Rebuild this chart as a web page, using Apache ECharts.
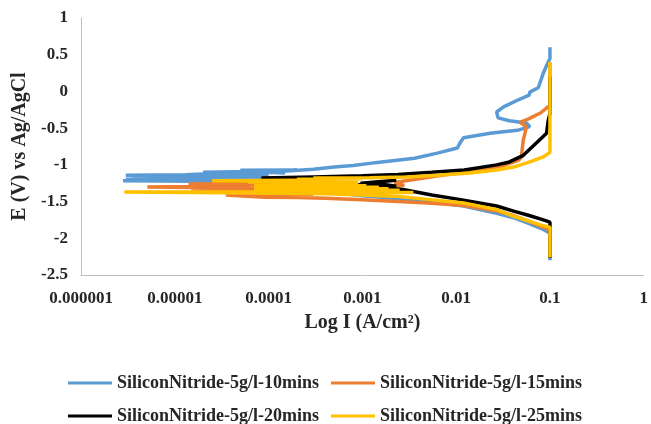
<!DOCTYPE html>
<html>
<head>
<meta charset="utf-8">
<script src="https://cdn.jsdelivr.net/npm/echarts@6/dist/echarts.min.js"></script>
<style>
  html, body { margin: 0; padding: 0; background: #fff; }
  #chart { width: 651px; height: 424px; }
</style>
</head>
<body>
<div id="chart"></div>
<script>
// tick labels of the log current axis (1e-6 .. 1)
const xTickLabels = ["0.000001", "0.00001", "0.0001", "0.001", "0.01", "0.1", "1"];

const seriesNames = [
  "SiliconNitride-5g/l-10mins",
  "SiliconNitride-5g/l-15mins",
  "SiliconNitride-5g/l-20mins",
  "SiliconNitride-5g/l-25mins",
];

// each trace: [current (A/cm2), potential (V)], in sweep order (cathodic -> anodic)
const trace10 = [
  [0.1, -2.30], [0.1, -1.93], [0.085, -1.88], [0.06, -1.80], [0.041, -1.72], [0.027, -1.66],
  [0.012, -1.56], [0.005, -1.50], [0.002, -1.45], [0.001, -1.42], [0.0005, -1.38], [0.0003, -1.30],
  [0.0002, -1.24], [0.0001, -1.23], [2.8e-6, -1.215], [6e-5, -1.205], [3e-6, -1.195], [8e-5, -1.19],
  [3.5e-6, -1.175], [1e-4, -1.17], [4e-6, -1.16], [5e-5, -1.155], [3e-6, -1.14], [1.3e-5, -1.135],
  [2e-5, -1.125], [1e-4, -1.13], [2e-5, -1.10], [6e-5, -1.09], [1.5e-4, -1.11], [5e-5, -1.075],
  [2e-4, -1.07], [1.3e-4, -1.09], [3e-4, -1.06], [5e-4, -1.03],
  [8e-4, -1.01], [0.0012, -0.98], [0.0016, -0.96], [0.0036, -0.91], [0.0063, -0.84], [0.0103, -0.77],
  [0.011, -0.70], [0.012, -0.63], [0.023, -0.57], [0.032, -0.55], [0.045, -0.53], [0.061, -0.48],
  [0.056, -0.43], [0.037, -0.40], [0.028, -0.36], [0.027, -0.28], [0.032, -0.21], [0.045, -0.12],
  [0.06, -0.05], [0.061, -0.01], [0.075, 0.05], [0.085, 0.25], [0.095, 0.39], [0.1, 0.45], [0.1, 0.60],
];

const trace15 = [
  [0.1, -2.22], [0.1, -1.89], [0.085, -1.85], [0.06, -1.77], [0.041, -1.69], [0.027, -1.63],
  [0.012, -1.555], [0.005, -1.52], [0.0024, -1.50], [0.001, -1.475], [0.0004, -1.455], [0.0002, -1.445],
  [9e-5, -1.44], [3.5e-5, -1.41], [0.0003, -1.40], [8e-5, -1.36], [1.5e-5, -1.33], [7e-5, -1.32],
  [5.1e-6, -1.30], [2.5e-5, -1.29], [7e-5, -1.27], [1.4e-5, -1.26], [6.6e-5, -1.255], [4e-4, -1.27],
  [0.0015, -1.29], [0.0028, -1.28], [0.0022, -1.24], [0.004, -1.19], [0.008, -1.13], [0.015, -1.09],
  [0.03, -1.02], [0.046, -0.94], [0.05, -0.89], [0.05, -0.84], [0.052, -0.66], [0.054, -0.58],
  [0.056, -0.48], [0.048, -0.42], [0.06, -0.37], [0.08, -0.29], [0.095, -0.21], [0.1, -0.20], [0.1, 0.40],
];

const trace20 = [
  [0.1, -2.27], [0.1, -1.78], [0.085, -1.75], [0.06, -1.69], [0.041, -1.63], [0.027, -1.56],
  [0.012, -1.48], [0.0055, -1.41], [0.0028, -1.34], [0.0016, -1.30], [0.00106, -1.28], [0.00096, -1.25],
  [0.0023, -1.21], [0.0012, -1.24], [0.0023, -1.29], [0.001, -1.26], [0.0006, -1.33], [0.00022, -1.38],
  [0.0005, -1.34], [8.4e-5, -1.18], [3e-4, -1.165], [0.001, -1.15], [0.0024, -1.13], [0.0055, -1.10],
  [0.0122, -1.07], [0.027, -1.00], [0.037, -0.96], [0.052, -0.87], [0.072, -0.70], [0.092, -0.57],
  [0.096, -0.39], [0.1, -0.30], [0.1, 0.20],
];

const trace25 = [
  [0.1, -2.26], [0.1, -1.85], [0.085, -1.83], [0.061, -1.77], [0.041, -1.70], [0.027, -1.61],
  [0.012, -1.52], [0.005, -1.47], [0.0024, -1.43], [0.001, -1.41], [0.0004, -1.395], [0.0001, -1.385],
  [3.5e-5, -1.38], [2.9e-6, -1.37], [1.5e-5, -1.37], [9e-5, -1.365], [0.0035, -1.375], [7e-5, -1.355],
  [0.0025, -1.345], [7e-5, -1.335], [0.0019, -1.325], [7e-5, -1.315], [0.0015, -1.305], [7e-5, -1.295],
  [0.0011, -1.285], [7e-5, -1.275], [0.0009, -1.265], [7e-5, -1.255], [0.0009, -1.245], [6e-5, -1.235],
  [0.0009, -1.225], [2.5e-5, -1.215], [0.0005, -1.205], [2e-4, -1.195], [0.001, -1.19], [3e-4, -1.18],
  [0.0012, -1.175], [0.003, -1.165], [0.0063, -1.14], [0.0141, -1.11], [0.027, -1.07], [0.041, -1.03],
  [0.061, -0.96], [0.085, -0.89], [0.1, -0.83], [0.1, 0.40],
];

const colors = ["#5B9BD5", "#ED7D31", "#000000", "#FFC000"];
const traces = [trace10, trace15, trace20, trace25];

const FONT = "'Liberation Serif', 'Times New Roman', serif";
const TEXT_COLOR = "#262626";

const chart = echarts.init(document.getElementById("chart"));

function legendRow(names, top) {
  return {
    data: names,
    left: 63,
    top: top,
    orient: "horizontal",
    icon: "rect",
    itemWidth: 44,
    itemHeight: 3,
    itemGap: 12,
    textStyle: { fontFamily: FONT, fontWeight: "bold", fontSize: 18, color: TEXT_COLOR },
  };
}

chart.setOption({
  animation: false,
  color: colors,
  grid: { left: 81, top: 18, width: 567, height: 257, containLabel: false },
  xAxis: {
    type: "log",
    logBase: 10,
    min: 1e-6,
    max: 1,
    splitNumber: 6,
    name: "Log I (A/cm²)",
    nameLocation: "middle",
    nameGap: 38,
    nameTextStyle: { fontFamily: FONT, fontWeight: "bold", fontSize: 20, color: TEXT_COLOR },
    axisLine: { onZero: false, lineStyle: { color: "#BFBFBF", width: 1 } },
    axisTick: { show: false },
    splitLine: { show: false },
    minorTick: { show: false },
    axisLabel: {
      margin: 15,
      fontFamily: FONT,
      fontWeight: "bold",
      fontSize: 17,
      color: TEXT_COLOR,
      formatter: (v) => xTickLabels[Math.round(Math.log10(v)) + 6],
    },
  },
  yAxis: {
    type: "value",
    min: -2.5,
    max: 1,
    interval: 0.5,
    name: "E (V) vs Ag/AgCl",
    nameLocation: "middle",
    nameGap: 49,
    nameTextStyle: { fontFamily: FONT, fontWeight: "bold", fontSize: 20, color: TEXT_COLOR },
    axisLine: { show: true, onZero: false, lineStyle: { color: "#BFBFBF", width: 1 } },
    axisTick: { show: false },
    splitLine: { show: false },
    axisLabel: { margin: 13, fontFamily: FONT, fontWeight: "bold", fontSize: 17, color: TEXT_COLOR },
  },
  legend: [
    legendRow(seriesNames.slice(0, 2), 369),
    legendRow(seriesNames.slice(2, 4), 402),
  ],
  series: traces.map((t, i) => ({
    name: seriesNames[i],
    type: "line",
    data: t,
    showSymbol: false,
    symbol: "none",
    smooth: false,
    lineStyle: { color: colors[i], width: 3.5 },
    itemStyle: { color: colors[i] },
  })),
});
</script>
</body>
</html>
